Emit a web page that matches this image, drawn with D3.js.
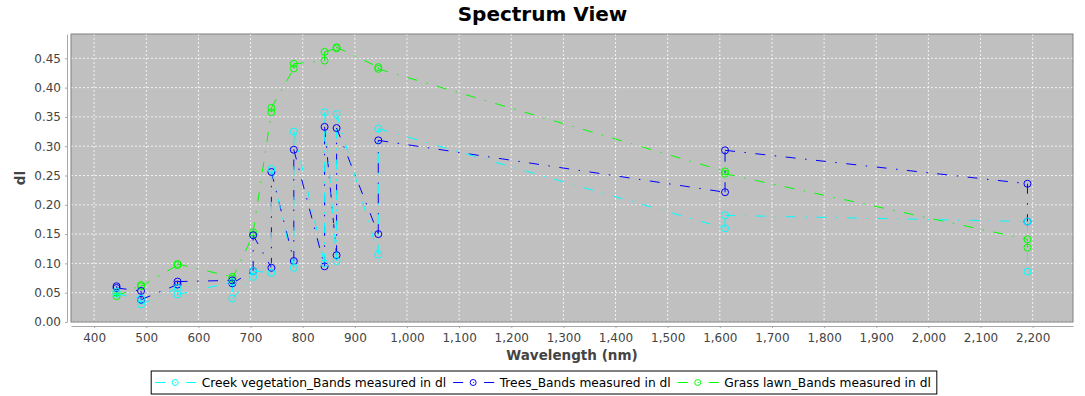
<!DOCTYPE html>
<html><head><meta charset="utf-8">
<script src="https://cdn.jsdelivr.net/npm/d3@7"></script>
<style>body{margin:0;background:#fff}svg{display:block;font-family:"DejaVu Sans",sans-serif}</style>
</head><body><svg id="c" width="1085" height="396"></svg>
<script>
// ---- data ----
const bands = [443, 490, 560, 665, 705, 740, 783, 842, 865, 945, 1610, 2190];
// two measured spectra per group; line runs A then B at each band
const creekA = [0.052, 0.040, 0.058, 0.068, 0.077, 0.084, 0.0925, 0.100, 0.104, 0.115, 0.160, 0.1715];
const creekB = [0.048, 0.030, 0.047, 0.040, 0.087, 0.261, 0.325, 0.358, 0.355, 0.330, 0.182, 0.086];
const treesA = [0.061, 0.053, 0.064, 0.071, 0.087, 0.0925, 0.104, 0.095, 0.114, 0.150, 0.2215, 0.236];
const treesB = [0.058, 0.038, 0.069, 0.066, 0.148, 0.256, 0.294, 0.333, 0.331, 0.310, 0.293, 0.1715];
const grassA = [0.050, 0.063, 0.097, 0.077, 0.149, 0.358, 0.4326, 0.446, 0.467, 0.435, 0.257, 0.141];
const grassB = [0.044, 0.061, 0.099, 0.074, 0.153, 0.3655, 0.4406, 0.461, 0.469, 0.432, 0.253, 0.127];
const seriesNames = ["Creek vegetation_Bands measured in dl", "Trees_Bands measured in dl", "Grass lawn_Bands measured in dl"];
const seriesColors = ["#00ffff", "#0000ff", "#00ff00"];
const xTicks = [400, 500, 600, 700, 800, 900, 1000, 1100, 1200, 1300, 1400, 1500, 1600, 1700, 1800, 1900, 2000, 2100, 2200];
const yTicks = [0.00, 0.05, 0.10, 0.15, 0.20, 0.25, 0.30, 0.35, 0.40, 0.45];
const chartTitle = "Spectrum View";
const xTitle = "Wavelength (nm)";
const yTitle = "dl";

// ---- build ----
const spectra = [[creekA, creekB], [treesA, treesB], [grassA, grassB]];
const series = spectra.map((pair, si) => {
  const pts = [];
  bands.forEach((b, i) => { pts.push({x: b, y: pair[0][i]}); pts.push({x: b, y: pair[1][i]}); });
  return {name: seriesNames[si], color: seriesColors[si], pts};
});

const svg = d3.select("#c");
const L = 71, R = 1073, T = 34, B = 322;
const xMin = d3.min(bands), xMax = d3.max(bands), xm = (xMax - xMin) * 0.05;
const yMax = d3.max(series, s => d3.max(s.pts, p => p.y));
const x = d3.scaleLinear().domain([xMin - xm, xMax + xm]).range([L, R]);
const y = d3.scaleLinear().domain([0, yMax * 1.048]).range([B, T]);

svg.append("rect").attr("width", 1085).attr("height", 396).attr("fill", "#fff");
svg.append("text").attr("x", 542.5).attr("y", 21).attr("text-anchor", "middle")
  .attr("font-size", "20px").attr("font-weight", "bold").attr("fill", "#000").text(chartTitle);

svg.append("rect").attr("x", L).attr("y", T).attr("width", R - L).attr("height", B - T).attr("fill", "#c0c0c0");

const grid = svg.append("g").attr("stroke", "#ffffff").attr("stroke-width", 0.8).attr("stroke-dasharray", "2,2");
grid.selectAll(".gx").data(xTicks).join("line").attr("x1", d => x(d)).attr("x2", d => x(d)).attr("y1", T).attr("y2", B);
grid.selectAll(".gy").data(yTicks).join("line").attr("y1", d => y(d)).attr("y2", d => y(d)).attr("x1", L).attr("x2", R);

svg.append("clipPath").attr("id", "clip").append("rect").attr("x", L).attr("y", T).attr("width", R - L).attr("height", B - T);
const plot = svg.append("g").attr("clip-path", "url(#clip)");
const dash = "10,9.5,1.5,9.5";
const order = [2, 1, 0];
order.forEach(si => {
  const s = series[si];
  const segs = d3.pairs(s.pts);
  plot.append("g").selectAll("line").data(segs).join("line")
    .attr("x1", d => x(d[0].x)).attr("y1", d => y(d[0].y))
    .attr("x2", d => x(d[1].x)).attr("y2", d => y(d[1].y))
    .attr("stroke", s.color).attr("stroke-width", 1).attr("stroke-dasharray", dash);
});
order.forEach(si => {
  const s = series[si];
  plot.append("g").selectAll("circle").data(s.pts).join("circle")
    .attr("cx", d => x(d.x)).attr("cy", d => y(d.y)).attr("r", 3.5)
    .attr("fill", "none").attr("stroke", s.color).attr("stroke-width", 1);
});

svg.append("rect").attr("x", L).attr("y", T).attr("width", R - L).attr("height", B - T)
  .attr("fill", "none").attr("stroke", "#808080").attr("stroke-width", 1);

function styleAxis(g) {
  g.select(".domain").attr("stroke", "#a8a8a8");
  g.selectAll(".tick line").attr("stroke", "#a8a8a8");
  g.selectAll(".tick text").attr("fill", "#444").attr("font-size", "12px").attr("font-family", "DejaVu Sans");
}
svg.append("g").attr("transform", "translate(67,0)")
  .call(d3.axisLeft(y).tickValues(yTicks).tickFormat(d3.format(".2f")).tickSize(2).tickSizeOuter(0).tickPadding(4))
  .call(styleAxis);
svg.append("g").attr("transform", "translate(0,326)")
  .call(d3.axisBottom(x).tickValues(xTicks).tickFormat(d3.format(",")).tickSize(2).tickSizeOuter(0).tickPadding(5))
  .call(styleAxis);

svg.append("text").attr("x", (L + R) / 2).attr("y", 360).attr("text-anchor", "middle")
  .attr("font-size", "13.5px").attr("font-weight", "bold").attr("fill", "#444").text(xTitle);
svg.append("text").attr("transform", `translate(25,${(T + B) / 2}) rotate(-90)`).attr("text-anchor", "middle")
  .attr("font-size", "13.5px").attr("font-weight", "bold").attr("fill", "#444").text(yTitle);

// legend
const lg = svg.append("g");
const ly = 382.5;
let cx = 0;
series.forEach((s, i) => {
  const g = lg.append("g");
  g.append("line").attr("x1", cx - 20).attr("x2", cx + 21).attr("y1", ly).attr("y2", ly)
    .attr("stroke", s.color).attr("stroke-width", 1).attr("stroke-dasharray", "10,10,1,10");
  g.append("circle").attr("cx", cx).attr("cy", ly).attr("r", 3).attr("fill", "none").attr("stroke", s.color);
  const t = g.append("text").attr("x", cx + 26.5).attr("y", ly + 4.5).attr("font-size", "12.25px").attr("fill", "#000").text(s.name);
  const w = t.node().getComputedTextLength();
  cx = cx + 26.5 + w + 27;
});
const bb = lg.node().getBBox();
const left = bb.x - 4, width = bb.width + 10;
const shift = 544 - (left + width / 2);
lg.attr("transform", `translate(${shift},0)`);
lg.insert("rect", ":first-child").attr("x", left).attr("y", 371).attr("width", width).attr("height", 23)
  .attr("fill", "#fff").attr("stroke", "#000").attr("stroke-width", 1);
</script></body></html>
